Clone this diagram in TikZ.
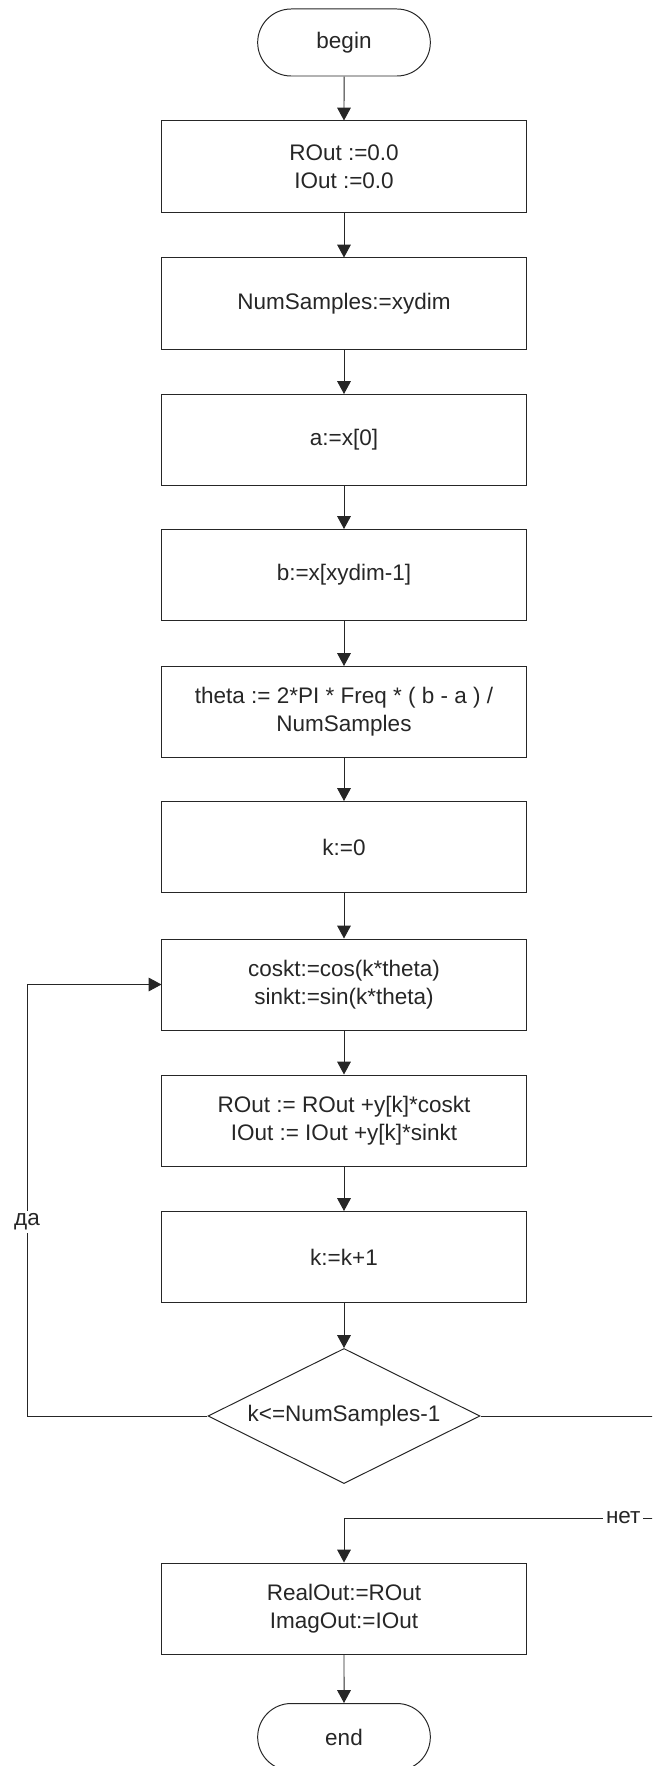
\documentclass[tikz,border=0pt]{standalone}
\usepackage{fontspec}
\setmainfont{Liberation Sans}
\usetikzlibrary{arrows.meta,shapes.geometric,shapes.misc}

\begin{document}
\begin{tikzpicture}[x=0.025cm, y=-0.025cm, line width=0.7pt, color=black!85,
    font=\fontsize{16}{20}\selectfont,
    box/.style={rectangle, draw, minimum width=9.1cm, minimum height=2.275cm, align=center, inner sep=0pt},
    term/.style={rounded rectangle, draw, minimum width=4.55cm, minimum height=1.675cm},
    cond/.style={diamond, draw, aspect=2, minimum width=6.8cm, minimum height=3.375cm, inner sep=0pt},
    flow/.style={-{Triangle[length=0.32cm, width=0.34cm]}},
    lbl/.style={fill=white, inner sep=2pt}]
    \useasboundingbox (0,0) rectangle (652,1766);
    \clip (0,0) rectangle (652,1766);

    % Start
    \node[term] (S) at (344,42.5) {begin};

    % Anweisungen
    \node[box] (P1) at (344,166.5) {ROut :=0.0\\IOut :=0.0};
    \node[box] (P2) at (344,303.5) {NumSamples:=xydim};
    \node[box] (P3) at (344,440) {a:=x[0]};
    \node[box] (P4) at (344,575) {b:=x[xydim-1]};
    \node[box] (P5) at (344,712) {theta := 2*PI * Freq * ( b - a ) /\\NumSamples};
    \node[box] (P6) at (344,847) {k:=0};
    \node[box] (P7) at (344,984.5) {coskt:=cos(k*theta)\\sinkt:=sin(k*theta)};
    \node[box] (P8) at (344,1120.5) {ROut := ROut +y[k]*coskt\\IOut := IOut +y[k]*sinkt};
    \node[box] (P9) at (344,1257) {k:=k+1};

    % Bedingung
    \node[cond] (K) at (344,1416) {k<=NumSamples-1};

    % Ausgabe und Ende
    \node[box] (P10) at (344,1608.5) {RealOut:=ROut\\ImagOut:=IOut};
    \node[term] (E) at (344,1737) {end};

    % Pfeile
    \draw[flow] (S) -- (P1);
    \draw[flow] (P1) -- (P2);
    \draw[flow] (P2) -- (P3);
    \draw[flow] (P3) -- (P4);
    \draw[flow] (P4) -- (P5);
    \draw[flow] (P5) -- (P6);
    \draw[flow] (P6) -- (P7);
    \draw[flow] (P7) -- (P8);
    \draw[flow] (P8) -- (P9);
    \draw[flow] (P9) -- (K);
    \draw[flow] (P10) -- (E);

    % Schleife (да)
    \coordinate (L1) at (27,1416);
    \coordinate (L2) at (27,984.5);
    \draw[flow] (K.west) -- (L1) -- node[lbl, pos=0.45] {да} (L2) -- (P7.west);

    % Ausgang (нет)
    \coordinate (R1) at (665,1416);
    \coordinate (R2) at (665,1518);
    \draw[flow] (K.east) -- (R1) -- (R2) -- node[lbl, pos=0.13] {нет} (P10.north |- R2) -- (P10.north);
\end{tikzpicture}
\end{document}
